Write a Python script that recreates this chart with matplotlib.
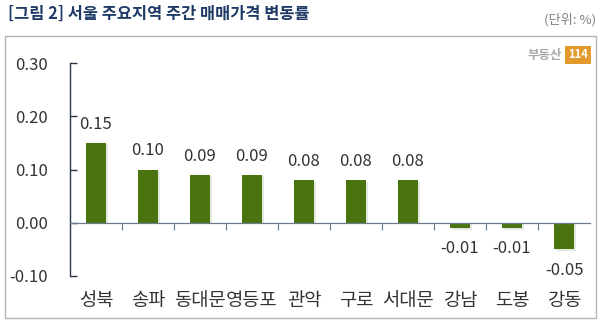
import matplotlib
matplotlib.use("Agg")
import matplotlib.pyplot as plt
from matplotlib.patches import Rectangle
from matplotlib.transforms import blended_transform_factory, offset_copy

plt.rcParams['font.family'] = ['Noto Sans CJK KR', 'DejaVu Sans']

# Weekly change of apartment sale prices by district (%)
districts = ['성북', '송파', '동대문', '영등포', '관악', '구로', '서대문', '강남', '도봉', '강동']
changes = [0.15, 0.10, 0.09, 0.09, 0.08, 0.08, 0.08, -0.01, -0.01, -0.05]
y_ticks = [-0.10, 0.00, 0.10, 0.20, 0.30]
y_tick_labels = ['-0.10', '0.00', '0.10', '0.20', '0.30']

title = '[그림 2] 서울 주요지역 주간 매매가격 변동률'
unit = '(단위: %)'

bar_color = '#4b7410'
shadow_color = '#d6dbd0'
text_color = '#333333'

fig = plt.figure(figsize=(6.0, 3.25), dpi=100)
fig.patch.set_facecolor('white')

# outer frame
fig.patches.append(Rectangle((5 / 600, 7 / 325), 591 / 600, 282 / 325,
                             transform=fig.transFigure, fill=False,
                             edgecolor='#b4b4b4', linewidth=1.0))

ax = fig.add_axes([70 / 600, 49 / 325, 520 / 600, 213 / 325])
x = list(range(len(districts)))

# soft drop shadow behind each bar
shadow_tf = offset_copy(ax.transData, fig=fig, x=2.0, y=-1.5, units='dots')
ax.bar(x, changes, width=0.4, color=shadow_color, alpha=0.6,
       transform=shadow_tf, zorder=1)
ax.bar(x, changes, width=0.4, color=bar_color, zorder=2)

ax.set_xlim(-0.5, len(districts) - 0.5)
ax.set_ylim(-0.10, 0.30)

ax.set_yticks(y_ticks)
ax.set_yticklabels(y_tick_labels)
ax.tick_params(axis='y', direction='in', length=5, width=1.0, color='#2b3646',
               labelsize=12, labelcolor=text_color, pad=16)

ax.set_xticks([i + 0.5 for i in range(len(districts) - 1)])
ax.set_xticklabels([])
ax.tick_params(axis='x', direction='out', length=5, width=0.8, color='#6d7c8c')

for s in ('top', 'right'):
    ax.spines[s].set_visible(False)
ax.spines['left'].set_color('#2b3646')
ax.spines['left'].set_linewidth(1.0)
ax.spines['bottom'].set_position(('data', 0))
ax.spines['bottom'].set_color('#6d7c8c')
ax.spines['bottom'].set_linewidth(0.9)
ax.patch.set_alpha(0)

# value labels
for xi, v in zip(x, changes):
    if v >= 0:
        ax.annotate(f'{v:.2f}', (xi, v), xytext=(0, 13.5), textcoords='offset points',
                    ha='center', va='center', fontsize=12, color=text_color)
    else:
        ax.annotate(f'{v:.2f}', (xi, v), xytext=(0, -15), textcoords='offset points',
                    ha='center', va='center', fontsize=12, color=text_color)

# district names along the bottom
tf = blended_transform_factory(ax.transData, ax.transAxes)
for xi, name in zip(x, districts):
    ax.text(xi, -0.115, name, transform=tf, ha='center', va='center',
            fontsize=13.5, color=text_color)

# header
fig.text(8 / 600, 1 - 14 / 325, title, ha='left', va='center', fontsize=11.8,
         fontweight='bold', color='#1f3a66')
fig.text(596 / 600, 1 - 20 / 325, unit, ha='right', va='center', fontsize=9.5,
         color='#808080')

# source mark
fig.text(562 / 600, 1 - 55 / 325, '부동산', ha='right', va='center', fontsize=9,
         fontweight='bold', color='#a8a8a8')
fig.text(578 / 600, 1 - 55 / 325, '114', ha='center', va='center', fontsize=8,
         fontweight='bold', color='white',
         bbox=dict(boxstyle='square,pad=0.25', facecolor='#e39a2d', edgecolor='none'))

fig.savefig('out.png', dpi=100, facecolor='white')
